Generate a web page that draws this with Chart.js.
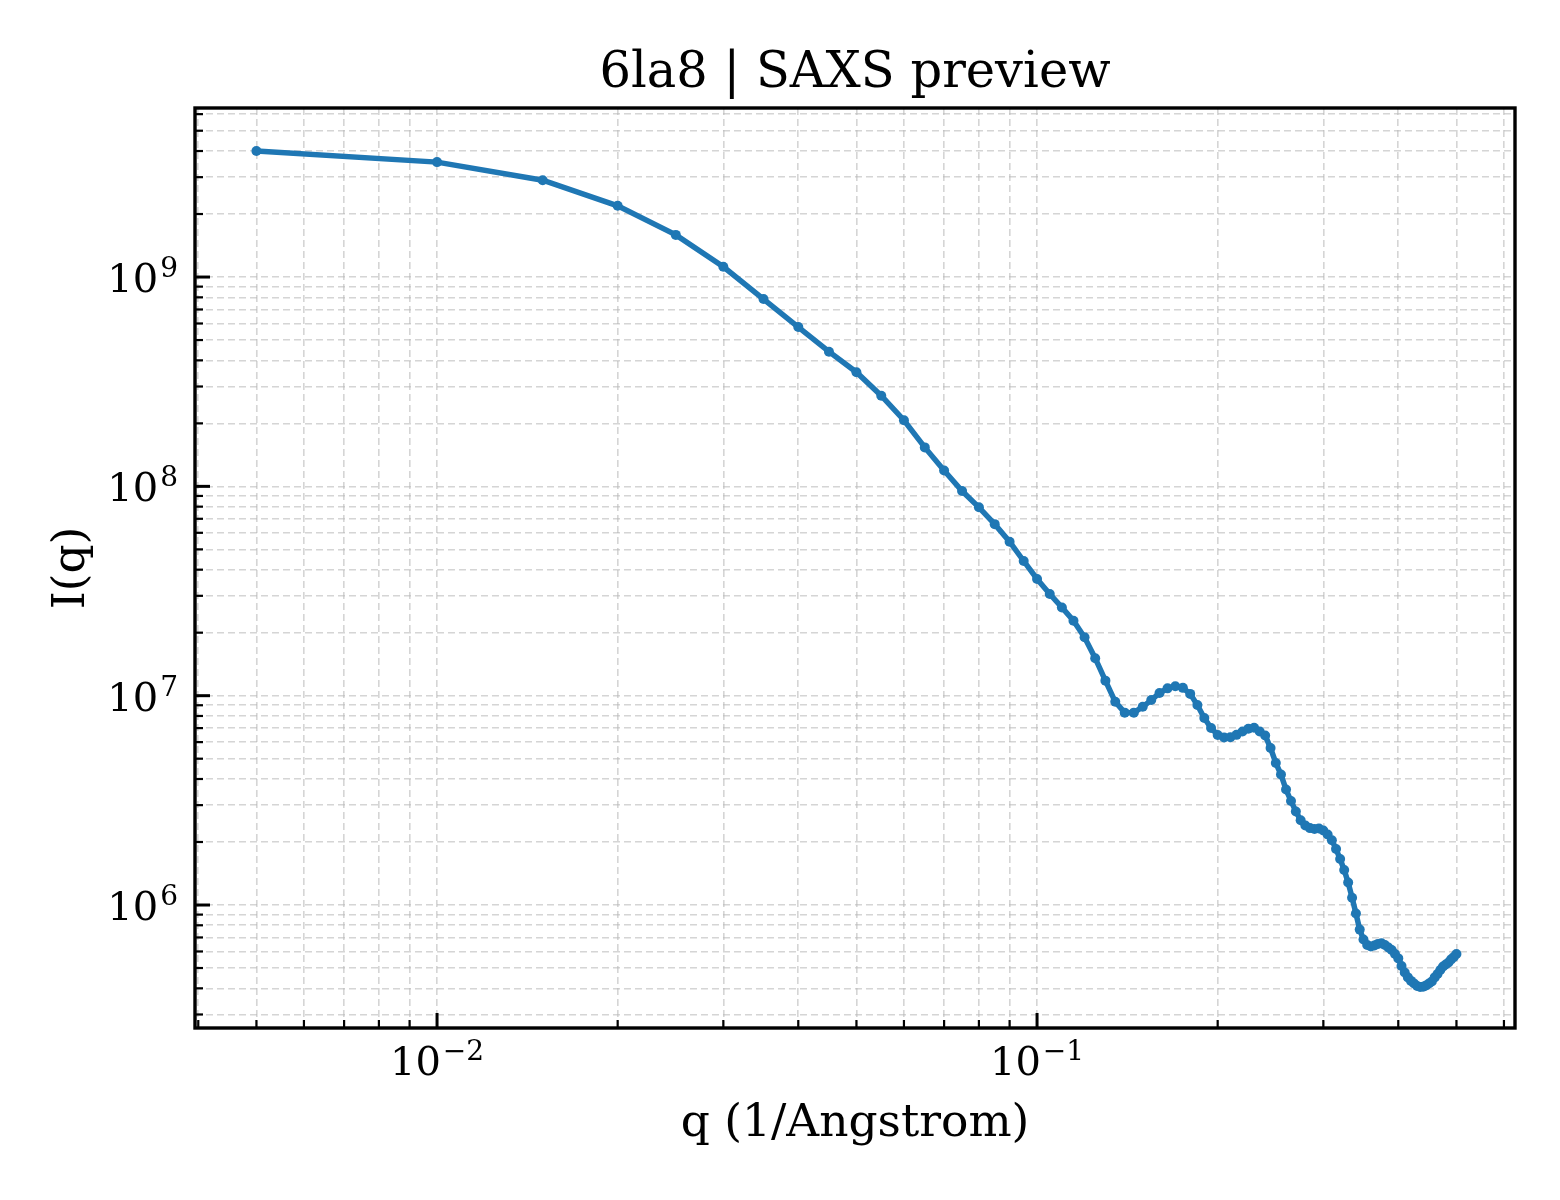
<!DOCTYPE html>
<html lang="en">

<head>
    <meta charset="UTF-8">
    <title>6la8 | SAXS preview</title>
    <script src="https://cdn.jsdelivr.net/npm/chart.js"></script>
    <style>
        body {
            margin: 0;
            background: #ffffff;
        }

        #grafico {
            display: block;
        }
    </style>
</head>

<body>
    <canvas id="grafico" width="1560" height="1200"></canvas>
</body>

</html>

<script>

    // q in 1/Angstrom
    var qValues = [
        0.005, 0.010, 0.015, 0.020, 0.025, 0.030, 0.035, 0.040, 0.045, 0.050,
        0.055, 0.060, 0.065, 0.070, 0.075, 0.080, 0.085, 0.090, 0.095, 0.100,
        0.105, 0.110, 0.115, 0.120, 0.125, 0.130, 0.135, 0.140, 0.145, 0.150,
        0.155, 0.160, 0.165, 0.170, 0.175, 0.180, 0.185, 0.190, 0.195, 0.200,
        0.205, 0.210, 0.215, 0.220, 0.225, 0.230, 0.235, 0.240, 0.245, 0.250,
        0.255, 0.260, 0.265, 0.270, 0.275, 0.280, 0.285, 0.290, 0.295, 0.300,
        0.305, 0.310, 0.315, 0.320, 0.325, 0.330, 0.335, 0.340, 0.345, 0.350,
        0.355, 0.360, 0.365, 0.370, 0.375, 0.380, 0.385, 0.390, 0.395, 0.400,
        0.405, 0.410, 0.415, 0.420, 0.425, 0.430, 0.435, 0.440, 0.445, 0.450,
        0.455, 0.460, 0.465, 0.470, 0.475, 0.480, 0.485, 0.490, 0.495, 0.500
    ];

    // I(q)
    var intensity = [
        4.00e9, 3.54e9, 2.90e9, 2.19e9, 1.59e9, 1.12e9, 7.85e8, 5.77e8, 4.40e8, 3.51e8,
        2.71e8, 2.07e8, 1.535e8, 1.19e8, 9.5e7, 7.94e7, 6.6e7, 5.44e7, 4.40e7, 3.61e7,
        3.06e7, 2.64e7, 2.28e7, 1.90e7, 1.51e7, 1.18e7, 9.35e6, 8.3e6, 8.3e6, 8.85e6,
        9.53e6, 1.03e7, 1.084e7, 1.11e7, 1.09e7, 1.02e7, 9.02e6, 7.82e6, 7.01e6, 6.49e6,
        6.32e6, 6.33e6, 6.50e6, 6.74e6, 6.95e6, 7.03e6, 6.74e6, 6.46e6, 5.62e6, 4.77e6,
        4.20e6, 3.56e6, 3.14e6, 2.80e6, 2.54e6, 2.40e6, 2.33e6, 2.31e6, 2.32e6, 2.27e6,
        2.17e6, 2.04e6, 1.85e6, 1.66e6, 1.47e6, 1.28e6, 1.084e6, 9.11e5, 7.63e5, 6.84e5,
        6.44e5, 6.34e5, 6.40e5, 6.52e5, 6.56e5, 6.44e5, 6.27e5, 6.10e5, 5.83e5, 5.56e5,
        5.11e5, 4.76e5, 4.51e5, 4.34e5, 4.22e5, 4.10e5, 4.06e5, 4.07e5, 4.13e5, 4.22e5,
        4.31e5, 4.51e5, 4.68e5, 4.89e5, 5.08e5, 5.20e5, 5.31e5, 5.50e5, 5.65e5, 5.83e5
    ];

    // labelled decades on each axis
    var xTickExponents = [-2, -1];
    var yTickExponents = [6, 7, 8, 9];

    var titulo = "6la8 | SAXS preview";
    var tituloX = "q (1/Angstrom)";
    var tituloY = "I(q)";

    var fonte = "'DejaVu Serif', serif";
    var azul = "#1f77b4";
    var cinzaGrade = "rgba(185, 185, 185, 0.6)";

    // 1..9 x 10^n inside [min, max]
    function ticksLog(min, max) {
        var lista = [];
        var e0 = Math.floor(Math.log10(min));
        var e1 = Math.ceil(Math.log10(max));
        for (var e = e0; e <= e1; e++) {
            for (var m = 1; m <= 9; m++) {
                var v = m * Math.pow(10, e);
                if (v >= min && v <= max) {
                    lista.push({ value: v, major: m == 1 });
                }
            }
        }
        return lista;
    }

    function isMajor(v) {
        var l = Math.log10(v);
        return Math.abs(l - Math.round(l)) < 1e-9;
    }

    function expTexto(e) {
        return e < 0 ? "\u2212" + Math.abs(e) : String(e);
    }

    // "10" with a raised exponent, like matplotlib's mathtext
    function medirPotencia(ctx, e) {
        ctx.font = "40px " + fonte;
        var w1 = ctx.measureText("10").width;
        ctx.font = "28px " + fonte;
        var w2 = ctx.measureText(expTexto(e)).width;
        return { w1: w1, w2: w2, total: w1 + 2 + w2 };
    }

    function desenharPotencia(ctx, e, xEsq, base) {
        var m = medirPotencia(ctx, e);
        ctx.fillStyle = "#000";
        ctx.textAlign = "left";
        ctx.textBaseline = "alphabetic";
        ctx.font = "40px " + fonte;
        ctx.fillText("10", xEsq, base);
        ctx.font = "28px " + fonte;
        ctx.fillText(expTexto(e), xEsq + m.w1 + 2, base - 15);
    }

    var molduraPlugin = {
        id: "moldura",
        afterDraw: function (chart) {
            var ctx = chart.ctx;
            var area = chart.chartArea;
            var sx = chart.scales.x;
            var sy = chart.scales.y;

            ctx.save();

            // inward ticks, left and bottom only
            ctx.strokeStyle = "#000";
            sx.ticks.forEach(function (t) {
                var px = sx.getPixelForValue(t.value);
                var len = isMajor(t.value) ? 15 : 8;
                ctx.lineWidth = isMajor(t.value) ? 3 : 2.2;
                ctx.beginPath();
                ctx.moveTo(px, area.bottom);
                ctx.lineTo(px, area.bottom - len);
                ctx.stroke();
            });
            sy.ticks.forEach(function (t) {
                var py = sy.getPixelForValue(t.value);
                var len = isMajor(t.value) ? 15 : 8;
                ctx.lineWidth = isMajor(t.value) ? 3 : 2.2;
                ctx.beginPath();
                ctx.moveTo(area.left, py);
                ctx.lineTo(area.left + len, py);
                ctx.stroke();
            });

            // frame
            ctx.lineWidth = 3.4;
            ctx.strokeRect(area.left, area.top, area.right - area.left, area.bottom - area.top);

            // tick labels
            xTickExponents.forEach(function (e) {
                var px = sx.getPixelForValue(Math.pow(10, e));
                var m = medirPotencia(ctx, e);
                desenharPotencia(ctx, e, px - m.total / 2, area.bottom + 47);
            });
            yTickExponents.forEach(function (e) {
                var py = sy.getPixelForValue(Math.pow(10, e));
                var m = medirPotencia(ctx, e);
                desenharPotencia(ctx, e, area.left - 17 - m.total, py + 15);
            });

            // titles
            var cx = (area.left + area.right) / 2;
            var cy = (area.top + area.bottom) / 2;
            ctx.fillStyle = "#000";
            ctx.textAlign = "center";
            ctx.textBaseline = "alphabetic";
            ctx.font = "49.5px " + fonte;
            ctx.fillText(titulo, cx, area.top - 21);
            ctx.font = "45.5px " + fonte;
            ctx.fillText(tituloX, cx, area.bottom + 108);

            ctx.translate(area.left - 111, cy);
            ctx.rotate(-Math.PI / 2);
            ctx.fillText(tituloY, 0, 0);

            ctx.restore();
        }
    };

    var pontos = [];
    for (var i = 0; i < qValues.length; i++) {
        pontos.push({ x: qValues[i], y: intensity[i] });
    }

    new Chart(document.getElementById("grafico"), {
        type: "line",
        data: {
            datasets: [
                {
                    label: tituloY,
                    data: pontos,
                    borderColor: azul,
                    backgroundColor: azul,
                    borderWidth: 5.5,
                    pointRadius: 5,
                    pointBorderWidth: 0,
                    pointBackgroundColor: azul,
                    tension: 0,
                    fill: false,
                },
            ],
        },
        options: {
            responsive: false,
            animation: false,
            devicePixelRatio: 1,
            layout: {
                padding: { left: 195, right: 45, top: 108, bottom: 172 },
            },
            plugins: {
                legend: { display: false },
                tooltip: { enabled: false },
            },
            scales: {
                x: {
                    type: "logarithmic",
                    min: 0.00395,
                    max: 0.626,
                    afterBuildTicks: function (scale) {
                        scale.ticks = ticksLog(scale.min, scale.max);
                    },
                    ticks: { display: false },
                    grid: { color: cinzaGrade, lineWidth: 1.6, drawTicks: false },
                    border: { display: false, dash: [7, 4] },
                },
                y: {
                    type: "logarithmic",
                    min: 2.585e5,
                    max: 6.42e9,
                    afterBuildTicks: function (scale) {
                        scale.ticks = ticksLog(scale.min, scale.max);
                    },
                    ticks: { display: false },
                    grid: { color: cinzaGrade, lineWidth: 1.6, drawTicks: false },
                    border: { display: false, dash: [7, 4] },
                },
            },
        },
        plugins: [molduraPlugin],
    });
</script>
